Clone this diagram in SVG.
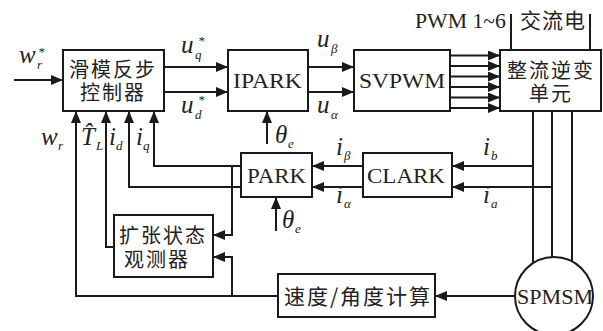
<svg xmlns="http://www.w3.org/2000/svg" width="603" height="331" viewBox="0 0 603 331">
<defs>
<marker id="a" viewBox="0 0 12 10" refX="12" refY="5" markerWidth="12" markerHeight="10" markerUnits="userSpaceOnUse" orient="auto"><path d="M0,0 L12,5 L0,10 z" fill="#1a1a1a"/></marker>
<style>
.b{fill:#fff;stroke:#1a1a1a;stroke-width:2}
.l{fill:none;stroke:#1a1a1a;stroke-width:2}
.la{fill:none;stroke:#1a1a1a;stroke-width:2;marker-end:url(#a)}
.cn{font-family:"Noto Sans CJK SC","Noto Sans",sans-serif;font-size:21px;fill:#222}
.c2{font-size:20px;letter-spacing:2px}
.en{font-family:"Liberation Serif",serif;font-size:21px;fill:#222}
.m{font-family:"Liberation Serif",serif;font-style:italic;font-size:25px;fill:#222}
.s{font-size:13px}
</style>
</defs>
<rect width="603" height="331" fill="#fff"/>
<g id="connectors">
<path class="la" d="M14,80 H63"/>
<path class="la" d="M164,67 H228"/>
<path class="la" d="M164,92 H228"/>
<path class="la" d="M308,67 H354"/>
<path class="la" d="M308,92 H354"/>
<path class="la" d="M450,55.5 H500"/>
<path class="la" d="M450,66 H500"/>
<path class="la" d="M450,76.5 H500"/>
<path class="la" d="M450,87 H500"/>
<path class="la" d="M450,97.5 H500"/>
<path class="la" d="M450,108 H500"/>
<path class="l" d="M511,14 V50"/>
<path class="l" d="M590,14 V50"/>
<path class="l" d="M533,111 V263"/>
<path class="l" d="M552,111 V257"/>
<path class="l" d="M572,111 V261"/>
<path class="la" d="M533,166 H452"/>
<path class="la" d="M552,187 H452"/>
<path class="la" d="M363,166 H312"/>
<path class="la" d="M363,187 H312"/>
<path class="la" d="M267,144 V111"/>
<path class="la" d="M276,231 V197"/>
<path class="la" d="M241,166 H154 V111"/>
<path class="la" d="M241,187 H129 V111"/>
<path class="la" d="M232,166 V235 H213"/>
<path class="la" d="M232,296 V257 H213"/>
<path class="la" d="M114,247 H106 V111"/>
<path class="la" d="M278,296 H76 V111"/>
<path class="la" d="M515,296 H435"/>
</g>
<g id="controller">
<rect class="b" x="63" y="50" width="101" height="61"/>
<text class="cn c2" x="69" y="77">滑模反步</text>
<text class="cn c2" x="80" y="100">控制器</text>
</g>
<g id="ipark">
<rect class="b" x="228" y="50" width="80" height="61"/>
<text class="en" x="233" y="88" textLength="69" lengthAdjust="spacingAndGlyphs">IPARK</text>
</g>
<g id="svpwm">
<rect class="b" x="354" y="50" width="96" height="61"/>
<text class="en" x="359" y="88" textLength="86" lengthAdjust="spacingAndGlyphs">SVPWM</text>
</g>
<g id="inverter">
<rect class="b" x="500" y="50" width="101" height="61"/>
<text class="cn c2" x="507" y="78">整流逆变</text>
<text class="cn c2" x="529" y="101">单元</text>
</g>
<g id="park">
<rect class="b" x="241" y="153" width="71" height="44"/>
<text class="en" x="247" y="183" textLength="59" lengthAdjust="spacingAndGlyphs">PARK</text>
</g>
<g id="clark">
<rect class="b" x="363" y="153" width="89" height="44"/>
<text class="en" x="367" y="183" textLength="78" lengthAdjust="spacingAndGlyphs">CLARK</text>
</g>
<g id="observer">
<rect class="b" x="114" y="215" width="99" height="62"/>
<text class="cn c2" x="119" y="243">扩张状态</text>
<text class="cn c2" x="124" y="267">观测器</text>
</g>
<g id="speed">
<rect class="b" x="278" y="274" width="157" height="43"/>
<text class="cn" x="284" y="304" style="font-size:21px" textLength="146">速度/角度计算</text>
</g>
<g id="spmsm">
<circle class="b" cx="554" cy="296" r="39"/>
<text class="en" x="517" y="304" textLength="76" lengthAdjust="spacingAndGlyphs">SPMSM</text>
</g>
<g id="labels">
<text class="en" x="415" y="28" textLength="91" lengthAdjust="spacingAndGlyphs">PWM 1~6</text>
<text class="cn" x="520" y="28" textLength="65">交流电</text>
<text class="m" x="19" y="63">w</text><text class="m s" x="37" y="69">r</text><text class="m s" x="38" y="56">*</text>
<text class="m" x="181" y="53">u</text><text class="m s" x="195" y="59">q</text><text class="m s" x="198" y="45">*</text>
<text class="m" x="181" y="113">u</text><text class="m s" x="195" y="119">d</text><text class="m s" x="198" y="104">*</text>
<text class="m" x="317" y="47">u</text><text class="m s" x="331" y="53">β</text>
<text class="m" x="317" y="113">u</text><text class="m s" x="331" y="119">α</text>
<text class="m" x="41" y="145">w</text><text class="m s" x="58" y="150">r</text>
<text class="m" x="81" y="145">T̂</text><text class="m s" x="96" y="150">L</text>
<text class="m" x="109" y="145">i</text><text class="m s" x="116" y="150">d</text>
<text class="m" x="136" y="145">i</text><text class="m s" x="143" y="150">q</text>
<text class="m" x="275" y="143">θ</text><text class="m s" x="288" y="148">e</text>
<text class="m" x="282" y="228">θ</text><text class="m s" x="295" y="233">e</text>
<text class="m" x="336" y="155">i</text><text class="m s" x="344" y="160">β</text>
<text class="m" x="336" y="203">i</text><text class="m s" x="344" y="208">α</text>
<text class="m" x="483" y="155">i</text><text class="m s" x="491" y="160">b</text>
<text class="m" x="483" y="203">i</text><text class="m s" x="491" y="208">a</text>
</g>
</svg>
